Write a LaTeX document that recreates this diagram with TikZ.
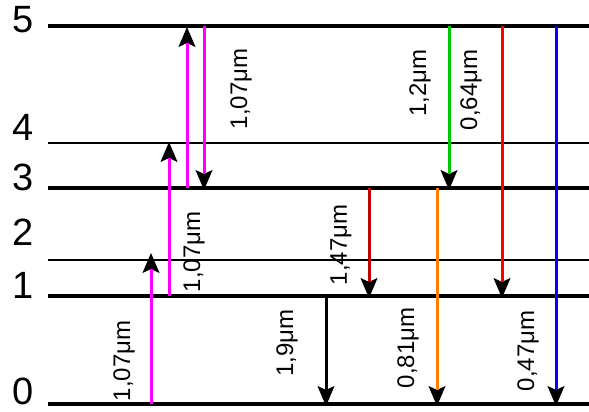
\documentclass[tikz,border=0pt]{standalone}
\usepackage{fontspec}
\setmainfont{Liberation Sans}
\usetikzlibrary{arrows.meta}

\definecolor{pump}{RGB}{255,0,255}
\definecolor{darkred}{RGB}{192,0,0}
\definecolor{orng}{RGB}{255,128,0}
\definecolor{grn}{RGB}{0,200,0}

\begin{document}
\begin{tikzpicture}[x=1pt,y=-1pt,
  level/.style={line width=3.5pt},
  sublevel/.style={line width=1.5pt},
  tipped/.style={line width=1pt,-{Stealth[length=20pt,width=17pt,inset=4pt]}},
  beam/.style={line width=3pt,shorten >=16pt},
  num/.style={font=\fontsize{38}{38}\selectfont,inner sep=0pt},
  wl/.style={rotate=90,font=\fontsize{24}{24}\selectfont,inner sep=0pt}]
\useasboundingbox (0,0) rectangle (589,412);

% levels
\node[num] (N5) at (23,20) {5};
\node[num] (N4) at (23,127) {4};
\node[num] (N3) at (23,177) {3};
\node[num] (N2) at (23,232) {2};
\node[num] (N1) at (23,285) {1};
\node[num] (N0) at (23,391) {0};

\coordinate (L5a) at (48,26);  \coordinate (L5b) at (589,26);
\coordinate (L4a) at (48,143); \coordinate (L4b) at (589,143);
\coordinate (L3a) at (48,188); \coordinate (L3b) at (589,188);
\coordinate (L2a) at (48,260); \coordinate (L2b) at (589,260);
\coordinate (L1a) at (48,296); \coordinate (L1b) at (589,296);
\coordinate (L0a) at (48,404); \coordinate (L0b) at (589,404);

\draw[level] (L5a) -- (L5b);
\draw[sublevel] (L4a) -- (L4b);
\draw[level] (L3a) -- (L3b);
\draw[sublevel] (L2a) -- (L2b);
\draw[level] (L1a) -- (L1b);
\draw[level] (L0a) -- (L0b);

% pump steps
\coordinate (P1s) at (151,404); \coordinate (P1e) at (151,253);
\coordinate (P2s) at (169,296); \coordinate (P2e) at (169,142);
\coordinate (P3s) at (187,188); \coordinate (P3e) at (187,27);
\coordinate (P4s) at (204,26);  \coordinate (P4e) at (204,190);
\draw[tipped] (P1s) -- (P1e); \draw[beam,pump] (P1s) -- (P1e);
\draw[tipped] (P2s) -- (P2e); \draw[beam,pump] (P2s) -- (P2e);
\draw[tipped] (P3s) -- (P3e); \draw[beam,pump] (P3s) -- (P3e);
\draw[tipped] (P4s) -- (P4e); \draw[beam,pump] (P4s) -- (P4e);

% emissions
\coordinate (E19s) at (326,296); \coordinate (E19e) at (326,406);
\coordinate (E147s) at (369,188); \coordinate (E147e) at (369,298);
\coordinate (E081s) at (437,188); \coordinate (E081e) at (437,406);
\coordinate (E12s) at (449,26);  \coordinate (E12e) at (449,190);
\coordinate (E064s) at (502,26); \coordinate (E064e) at (502,298);
\coordinate (E047s) at (556,26); \coordinate (E047e) at (556,406);
\draw[tipped] (E19s) -- (E19e);   \draw[beam,black] (E19s) -- (E19e);
\draw[tipped] (E147s) -- (E147e); \draw[beam,darkred] (E147s) -- (E147e);
\draw[tipped] (E081s) -- (E081e); \draw[beam,orng] (E081s) -- (E081e);
\draw[tipped] (E12s) -- (E12e);   \draw[beam,grn] (E12s) -- (E12e);
\draw[tipped] (E064s) -- (E064e); \draw[beam,red] (E064s) -- (E064e);
\draw[tipped] (E047s) -- (E047e); \draw[beam,blue] (E047s) -- (E047e);

% wavelengths
\node[wl] (W1) at (124,361) {1,07μm};
\node[wl] (W2) at (194,252) {1,07μm};
\node[wl] (W3) at (241,89) {1,07μm};
\node[wl] (W19) at (287,343) {1,9μm};
\node[wl] (W147) at (341,245) {1,47μm};
\node[wl] (W081) at (408,348) {0,81μm};
\node[wl] (W12) at (420,83) {1,2μm};
\node[wl] (W064) at (471,90) {0,64μm};
\node[wl] (W047) at (528,351) {0,47μm};
\end{tikzpicture}
\end{document}
